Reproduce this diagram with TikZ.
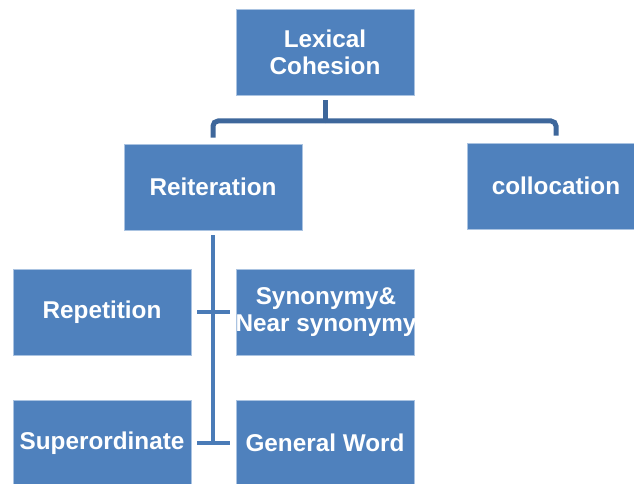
\documentclass[tikz,border=0pt]{standalone}
\usepackage{fontspec}
\setmainfont{Liberation Sans}
\definecolor{boxblue}{RGB}{79,129,189}
\definecolor{boxedge}{RGB}{170,195,225}
\definecolor{topline}{RGB}{62,103,155}
\definecolor{sideline}{RGB}{74,123,183}
\begin{document}
\begin{tikzpicture}[x=1pt,y=-1pt,
  boxtext/.style={inner sep=0pt, align=center, text=white,
    font=\fontsize{24.3}{27}\selectfont\bfseries},
  box/.style={rectangle, fill=boxblue, draw=boxedge, line width=0.7pt,
    minimum width=178pt, minimum height=86pt, boxtext},
  topconn/.style={draw=topline, line width=5pt, rounded corners=5pt},
  sideconn/.style={draw=sideline, line width=4.5pt}]
\useasboundingbox (0,0) rectangle (634,484);
\node[box] (lex) at (325,52) {Lexical\\Cohesion};
\node[box] (rei) at (213,187) {Reiteration};
\node[box] (col) at (556,186) {collocation};
\node[box] (rep) at (102,312) {Repetition};
\node[box] (syn) at (325,312) {};
\node[boxtext] (syntext) at (326,312.5) {Synonymy\&\\Near synonymy};
\node[box] (sup) at (102,443) {Superordinate};
\node[box] (gen) at (325,443) {General Word};
\coordinate (hub) at (325,121);
\draw[topconn, shorten <=5pt] (lex.south) -- (hub);
\draw[topconn, shorten >=6pt] (hub) -| (rei.north);
\draw[topconn, shorten >=7pt] (hub) -| (col.north);
\draw[sideconn, shorten <=5pt] (rei.south) -- (rei.south |- gen.west);
\draw[sideconn, shorten <=6pt, shorten >=6pt] (rep.east) -- (syn.west);
\draw[sideconn, shorten <=6pt, shorten >=6pt] (sup.east |- gen.west) -- (gen.west);
\end{tikzpicture}
\end{document}
